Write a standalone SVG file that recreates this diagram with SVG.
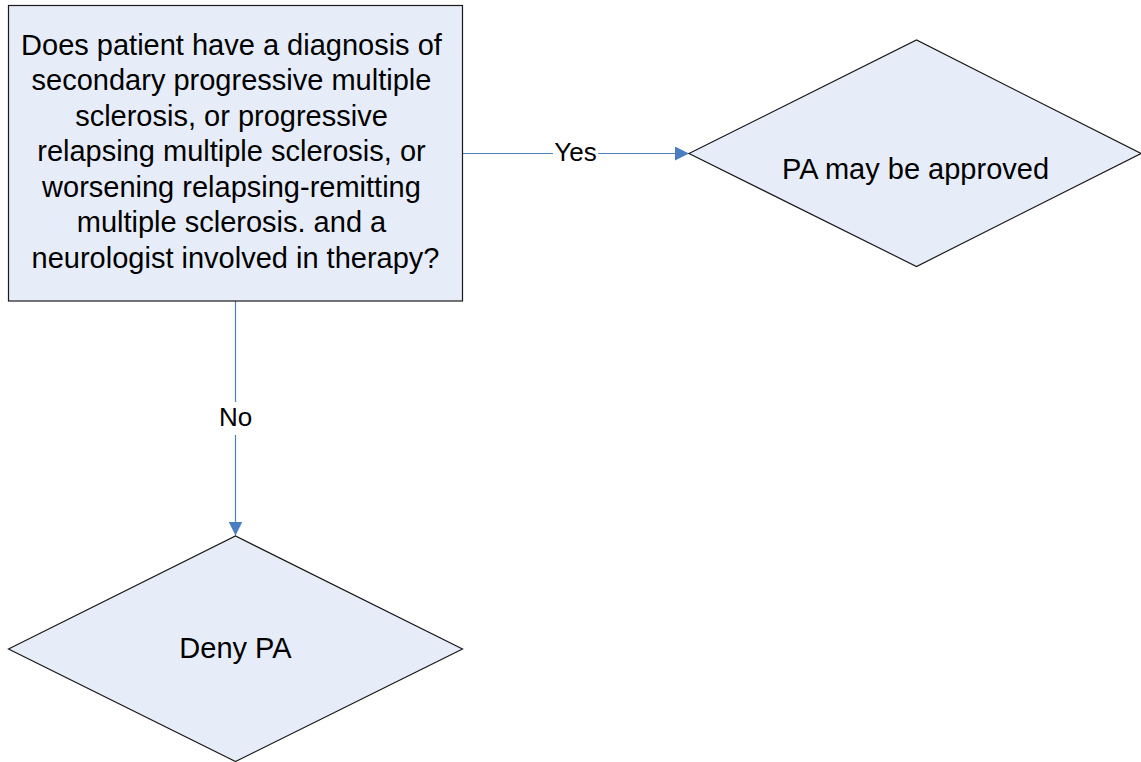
<svg xmlns="http://www.w3.org/2000/svg" width="1141" height="762" viewBox="0 0 1141 762">
  <style>
    .shape { fill: #E7EDF8; stroke: #1a1a1a; stroke-width: 1.2; }
    .txt { font-family: "Liberation Sans", Arial, sans-serif; font-size: 29px; fill: #000; text-anchor: middle; }
    .lbl { font-family: "Liberation Sans", Arial, sans-serif; font-size: 26px; fill: #000; text-anchor: middle; }
    .conn { stroke: #4F81BD; stroke-width: 1.2; fill: none; }
    .lblbg { fill: #fff; }
  </style>
  <defs>
    <marker id="arrow" viewBox="0 0 14 14" refX="14" refY="7" markerWidth="14" markerHeight="14" markerUnits="userSpaceOnUse" orient="auto">
      <path d="M0,0 L14,7 L0,14 Z" fill="#4A7EC0"/>
    </marker>
  </defs>
  <rect width="1141" height="762" fill="#fff"/>

  <g id="connectors">
    <line class="conn" x1="462.5" y1="153.5" x2="689" y2="153.5" marker-end="url(#arrow)"/>
    <line class="conn" x1="235.5" y1="301" x2="235.5" y2="535.5" marker-end="url(#arrow)"/>
    <rect class="lblbg" x="553" y="140" width="45" height="26"/>
    <text class="lbl" x="575.5" y="161">Yes</text>
    <rect class="lblbg" x="218" y="402" width="35" height="33"/>
    <text class="lbl" x="235.5" y="426">No</text>
  </g>

  <g id="question">
    <rect class="shape" x="8.5" y="5.5" width="454" height="295.5"/>
    <text class="txt">
      <tspan x="235.5" y="55">Does patient have a diagnosis of</tspan>
      <tspan x="235.5" y="90.4">secondary progressive multiple</tspan>
      <tspan x="235.5" y="125.9">sclerosis, or progressive</tspan>
      <tspan x="235.5" y="161.3">relapsing multiple sclerosis, or</tspan>
      <tspan x="235.5" y="196.8">worsening relapsing-remitting</tspan>
      <tspan x="235.5" y="232.2">multiple sclerosis. and a</tspan>
      <tspan x="235.5" y="267.7">neurologist involved in therapy?</tspan>
    </text>
  </g>

  <g id="approve">
    <polygon class="shape" points="689,153.5 916.5,40 1141,153.5 916.5,266.5"/>
    <text class="txt" x="915.5" y="179">PA may be approved</text>
  </g>

  <g id="deny">
    <polygon class="shape" points="8.5,649 235.5,536 462.5,649 235.5,761.5"/>
    <text class="txt" x="235.5" y="657.5">Deny PA</text>
  </g>
</svg>
